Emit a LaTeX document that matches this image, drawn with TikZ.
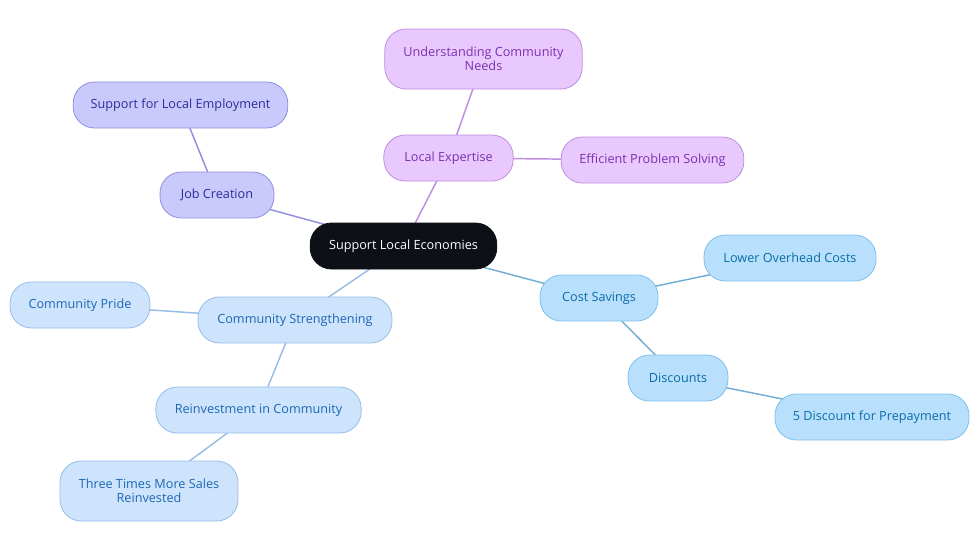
\documentclass[tikz,border=0pt]{standalone}
\usepackage{fontspec}
\setmainfont{Open Sans}
\usetikzlibrary{backgrounds}
\definecolor{hubfill}{HTML}{0D1117}
\definecolor{jobfill}{HTML}{C9C9FB}
\definecolor{jobdraw}{HTML}{9090E0}
\definecolor{jobtext}{HTML}{2C2C9C}
\definecolor{expfill}{HTML}{E9C9FD}
\definecolor{expdraw}{HTML}{C08CE0}
\definecolor{exptext}{HTML}{7A30B0}
\definecolor{costfill}{HTML}{B8E0FC}
\definecolor{costdraw}{HTML}{80C0EA}
\definecolor{costtext}{HTML}{0A6CA8}
\definecolor{commfill}{HTML}{CDE4FC}
\definecolor{commdraw}{HTML}{96BEE8}
\definecolor{commtext}{HTML}{1E66B4}
\tikzset{
  box/.style={rectangle,draw,rounded corners=16pt,align=center,inner sep=3pt,
    minimum height=34.5pt,font=\fontsize{9.5}{10.5}\selectfont,line width=0.6pt},
  hub/.style={box,fill=hubfill,draw=hubfill,text=white},
  jobbox/.style={box,fill=jobfill,draw=jobdraw,text=jobtext},
  expbox/.style={box,fill=expfill,draw=expdraw,text=exptext},
  costbox/.style={box,fill=costfill,draw=costdraw,text=costtext},
  commbox/.style={box,fill=commfill,draw=commdraw,text=commtext},
  tall/.style={minimum height=45pt},
  line/.style={line width=1.1pt}
}
\begin{document}
\begin{tikzpicture}[x=0.75pt,y=-0.75pt]
\useasboundingbox (0,0) rectangle (980,553);
\node[hub, minimum width=140pt] (root) at (403.5,246) {Support Local Economies};
% job creation branch
\node[jobbox, minimum width=85.5pt] (job) at (217,195) {Job Creation};
\node[jobbox, minimum width=161pt] (emp) at (180.5,105) {Support for Local Employment};
% local expertise branch
\node[expbox, minimum width=97pt] (exp) at (448.5,158) {Local Expertise};
\node[expbox, tall, minimum width=148pt] (needs) at (483.5,59) {Understanding Community\\Needs};
\node[expbox, minimum width=137pt] (solve) at (652.5,160) {Efficient Problem Solving};
% cost savings branch
\node[costbox, minimum width=88.5pt] (cost) at (599,298) {Cost Savings};
\node[costbox, minimum width=129pt] (overhead) at (790,258) {Lower Overhead Costs};
\node[costbox, minimum width=75pt] (disc) at (678,378) {Discounts};
\node[costbox, minimum width=145.5pt] (prepay) at (872,417) {5 Discount for Prepayment};
% community branch
\node[commbox, minimum width=145.5pt] (comm) at (295,320) {Community Strengthening};
\node[commbox, minimum width=105pt] (pride) at (80,305) {Community Pride};
\node[commbox, minimum width=154pt] (reinv) at (258.5,410) {Reinvestment in Community};
\node[commbox, tall, minimum width=133.5pt] (sales) at (149,491) {Three Times More Sales\\Reinvested};
\begin{scope}[on background layer]
\draw[line, color=jobdraw] (root.center) -- (job.center);
\draw[line, color=jobdraw] (job.center) -- (emp.center);
\draw[line, color=expdraw] (root.center) -- (exp.center);
\draw[line, color=expdraw] (exp.center) -- (needs.center);
\draw[line, color=expdraw] (exp.center) -- (solve.center);
\draw[line, color=costdraw!90!black] (root.center) -- (cost.center);
\draw[line, color=costdraw!90!black] (cost.center) -- (overhead.center);
\draw[line, color=costdraw!90!black] (cost.center) -- (disc.center);
\draw[line, color=costdraw!90!black] (disc.center) -- (prepay.center);
\draw[line, color=commdraw] (root.center) -- (comm.center);
\draw[line, color=commdraw] (comm.center) -- (pride.center);
\draw[line, color=commdraw] (comm.center) -- (reinv.center);
\draw[line, color=commdraw] (reinv.center) -- (sales.center);
\end{scope}
\end{tikzpicture}
\end{document}
